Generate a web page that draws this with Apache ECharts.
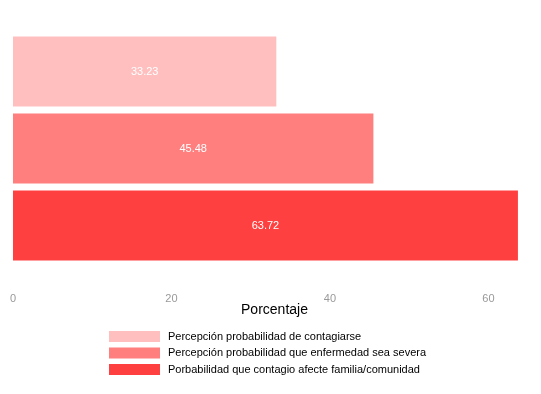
<!DOCTYPE html>
<html><head><meta charset="utf-8">
<script src="https://cdn.jsdelivr.net/npm/echarts@6/dist/echarts.min.js"></script>
<style>html,body{margin:0;padding:0;background:#fff}#c{width:541px;height:394px}</style>
</head><body><div id="c"></div>
<script>
const categories = ['Percepción probabilidad de contagiarse','Percepción probabilidad que enfermedad sea severa','Porbabilidad que contagio afecte familia/comunidad'];
const values = [33.23, 45.48, 63.72];
const colors = ['#FFBFBF', '#FF7F7F', '#FF4040'];
const xTicks = [0, 20, 40, 60];

const font = 'Liberation Sans, Arial, sans-serif';
const series = categories.map((name, i) => ({
  name: name,
  type: 'bar',
  barWidth: 70,
  barGap: '-100%',
  itemStyle: { color: colors[i] },
  label: { show: true, position: 'inside', color: '#fff', fontSize: 11, fontFamily: font,
           formatter: p => p.value.toFixed(2) },
  data: categories.map((c, j) => j === i ? values[i] : '-')
}));

const chart = echarts.init(document.getElementById('c'));
chart.setOption({
  animation: false,
  backgroundColor: '#fff',
  grid: { left: 13, right: 5, top: 33, height: 231, containLabel: false },
  xAxis: {
    type: 'value', min: 0, max: 66, interval: 20,
    name: 'Porcentaje', nameLocation: 'middle', nameGap: 39, nameMoveOverlap: false,
    nameTextStyle: { color: '#000', fontSize: 14, fontFamily: font },
    axisLine: { show: false }, axisTick: { show: false }, splitLine: { show: false },
    axisLabel: { color: '#999', fontSize: 11, fontFamily: font, margin: 29,
                 formatter: v => xTicks.includes(v) ? String(v) : '' }
  },
  yAxis: {
    type: 'category', data: categories, inverse: true,
    axisLine: { show: false }, axisTick: { show: false }, axisLabel: { show: false }, splitLine: { show: false }
  },
  legend: {
    orient: 'vertical', left: 109, top: 331, padding: 0,
    itemWidth: 51, itemHeight: 11, itemGap: 5.5, icon: 'rect',
    textStyle: { color: '#000', fontSize: 11, fontFamily: font, padding: [0, 0, 0, 3] },
    data: categories
  },
  series: series
});
</script></body></html>
